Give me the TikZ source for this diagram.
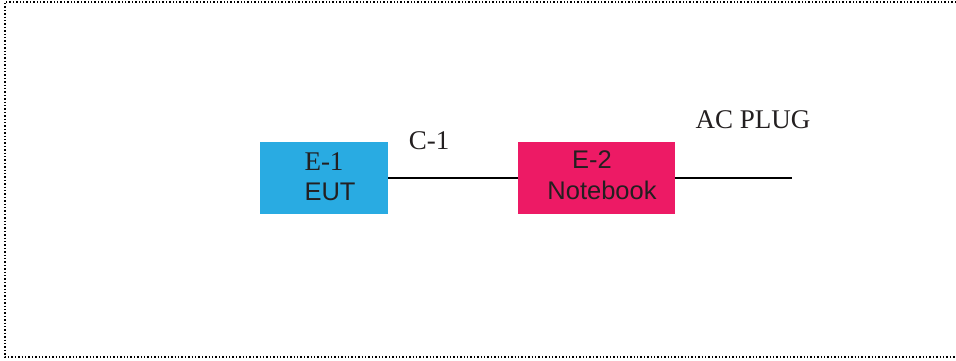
\documentclass[tikz,border=0pt]{standalone}
\usepackage{fontspec}
\setmainfont{Liberation Serif}
\newfontfamily\arialfont{Liberation Sans}
\usepackage{tikz}

\definecolor{eutblue}{RGB}{41,171,226}
\definecolor{nbpink}{RGB}{237,26,101}
\definecolor{txtgray}{RGB}{35,31,32}

\tikzset{
  unit/.style={inner sep=0pt, minimum width=#1, minimum height=72pt},
  lbl/.style={inner sep=0pt, text=txtgray, font=\fontsize{27}{30}\selectfont},
  sflbl/.style={lbl, font=\arialfont\fontsize{25.5}{30}\selectfont},
  cable/.style={line width=1.3pt}
}

\begin{document}
\begin{tikzpicture}[x=1pt,y=-1pt]
\useasboundingbox (0,0) rectangle (956,360);
% dotted frame (open on the right)
\draw[dotted, line width=1.4pt] (956,2) -- (5,2) -- (5,357) -- (956,357);
% units
\node[unit=128pt, fill=eutblue] (eut) at (324,178) {};
\node[unit=157pt, fill=nbpink] (nb) at (596.5,178) {};
\coordinate (plug) at (792,178);
% cables
\draw[cable] (eut.east) -- (nb.west);
\draw[cable] (nb.east) -- (plug);
% labels
\node[lbl] (e1) at (324,162) {E-1};
\node[sflbl] (eutlbl) at (330,192) {EUT};
\node[sflbl] (e2) at (592,160) {E-2};
\node[sflbl] (nblbl) at (602,190) {Notebook};
\node[lbl] (c1) at (429,141) {C-1};
\node[lbl] (acplug) at (753,120) {AC PLUG};
\end{tikzpicture}
\end{document}
